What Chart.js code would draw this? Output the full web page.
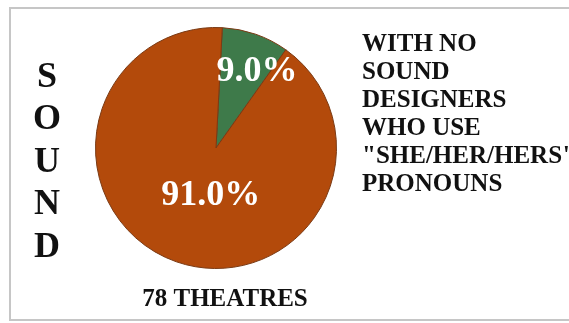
<!DOCTYPE html>
<html>
<head>
    <title>Sound Designers Pie</title>
    <script src="https://cdn.jsdelivr.net/npm/chart.js"></script>
    <style>
        body { margin: 0; background: #fff; }
        .page { position: relative; width: 569px; height: 323px; overflow: hidden; }
        .frame { position: absolute; left: 9px; top: 7px; width: 660px; height: 314px; box-sizing: border-box;
                 border: 2px solid #c6c6c6; border-right: none; }
        .wrap { position: absolute; left: 0; top: 0; width: 569px; height: 323px; }
    </style>
</head>
<body>
<div class="page">
    <div class="frame"></div>
    <div class="wrap"><canvas id="pieChart"></canvas></div>
</div>

    <script>
        const categories = ['With "she/her/hers" sound designers', 'With no "she/her/hers" sound designers'];
        const shares = [9.0, 91.0];
        const sliceColors = ['#3e7a4a', '#b34a0b'];
        const sideTitle = 'SOUND';
        const noteLines = ['WITH NO', 'SOUND', 'DESIGNERS', 'WHO USE', '"SHE/HER/HERS"', 'PRONOUNS'];
        const countLabel = '78 THEATRES';

        // where each percentage sits: angle shift from slice middle (deg) and fraction of radius
        const labelShift = [9, -13];
        const labelDist = [0.72, 0.40];
        const serif = '"Liberation Serif", "Times New Roman", serif';

        const textLayer = {
            id: 'textLayer',
            afterDatasetsDraw(chart) {
                const ctx = chart.ctx;
                const arcs = chart.getDatasetMeta(0).data;
                ctx.save();

                // percentages inside slices
                ctx.fillStyle = '#ffffff';
                ctx.font = 'bold 36px ' + serif;
                ctx.textAlign = 'center';
                ctx.textBaseline = 'middle';
                arcs.forEach((arc, i) => {
                    const mid = (arc.startAngle + arc.endAngle) / 2 + labelShift[i] * Math.PI / 180;
                    const r = arc.outerRadius * labelDist[i];
                    ctx.fillText(shares[i].toFixed(1) + '%', arc.x + Math.cos(mid) * r, arc.y + Math.sin(mid) * r);
                });

                ctx.textBaseline = 'alphabetic';
                ctx.fillStyle = '#111111';

                // vertical title on the left
                ctx.font = 'bold 36px ' + serif;
                sideTitle.split('').forEach((ch, i) => ctx.fillText(ch, 47, 86.5 + i * 42.5));

                // count under the pie
                ctx.font = 'bold 25px ' + serif;
                ctx.fillText(countLabel, 225, 306);

                // note on the right
                ctx.textAlign = 'left';
                noteLines.forEach((line, i) => ctx.fillText(line, 362, 51 + i * 28));
                ctx.restore();
            }
        };

        const ctx = document.getElementById('pieChart').getContext('2d');
        new Chart(ctx, {
            type: 'pie',
            data: {
                labels: categories,
                datasets: [{
                    data: shares,
                    backgroundColor: sliceColors,
                    borderColor: '#7a3a14',
                    borderWidth: 1
                }]
            },
            options: {
                responsive: true,
                maintainAspectRatio: false,
                animation: false,
                rotation: 3,
                layout: { padding: { left: 95, right: 232, top: 27, bottom: 54 } },
                plugins: {
                    legend: { display: false },
                    tooltip: { enabled: false }
                }
            },
            plugins: [textLayer]
        });
    </script>
</body>
</html>
